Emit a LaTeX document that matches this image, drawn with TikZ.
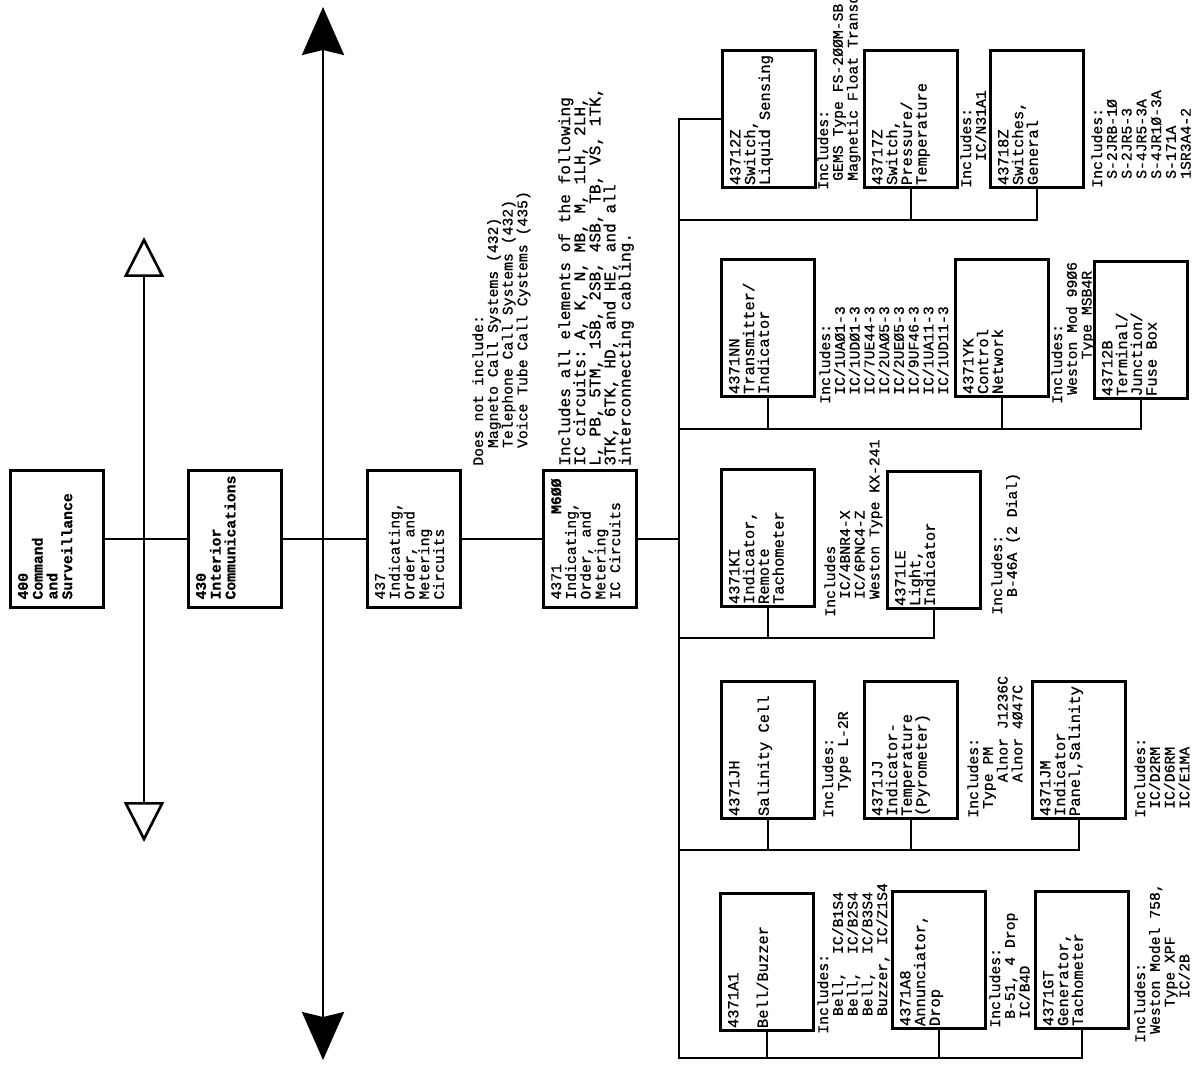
\documentclass[tikz,border=0pt]{standalone}
\usepackage{fontspec}
\setmonofont{Liberation Mono}[FakeBold=0.8]
\usetikzlibrary{arrows.meta}
\newcommand{\typefont}{\ttfamily\fontsize{8.4}{8.4}\selectfont}
\newcommand{\rtypefont}{\ttfamily\fontsize{8.8}{8.4}\selectfont}
\newcommand{\bigtypefont}{\ttfamily\fontsize{9.2}{8.6}\selectfont}
\newcommand{\bx}[1]{\parbox[t][1.56cm][t]{2.42cm}{\raggedright #1}}
\newcommand{\rbx}[1]{\parbox[t][1.56cm][t]{2.64cm}{\raggedright #1}}
\newcommand{\ind}[1]{\hspace*{#1\dimexpr0.6em\relax}}
\tikzset{
  blk/.style={draw, line width=1.5pt, rotate=90, inner xsep=0.16cm,
    inner ysep=0.15cm, font=\typefont},
  rblk/.style={blk, inner xsep=0.05cm, font=\rtypefont},
  bold/.style={font=\typefont\bfseries},
  note/.style={rotate=90, anchor=north west, inner sep=0pt, align=left,
    font=\typefont},
  wire/.style={line width=1.5pt},
  bigarrow/.style={line width=1.5pt,
    {Stealth[length=0.96cm,width=0.84cm,inset=0.1cm]}-{Stealth[length=0.96cm,width=0.84cm,inset=0.1cm]}},
  smallarrow/.style={line width=1.5pt,
    {Triangle[open,length=0.8cm,width=0.8cm]}-{Triangle[open,length=0.8cm,width=0.8cm]}}
}
\begin{document}
\begin{tikzpicture}[x=0.02cm, y=-0.02cm]
  \useasboundingbox (0,0) rectangle (1193,1065);

  % level arrows
  \coordinate (bigtop) at (323,7);
  \coordinate (bigbot) at (323,1060);
  \draw[bigarrow] (bigbot) -- (bigtop);
  \coordinate (smtop) at (144,237);
  \coordinate (smbot) at (144,842);
  \draw[smallarrow] (smbot) -- (smtop);

  % main chain
  \node[blk, bold] (n400) at (57,539) {\bx{400\\Command\\and\\Surveillance}};
  \node[blk, bold] (n430) at (235,539) {\bx{430\\Interior\\Communications}};
  \node[blk] (n437) at (414,539) {\bx{437\\Indicating,\\Order, and\\Metering\\Circuits}};
  \node[blk] (n4371) at (590,539) {\bx{4371\hfill\textbf{M6ØØ}\\Indicating,\\Order, and\\Metering\\IC Circuits}};
  \draw[wire] (n400.south) -- (n430.north);
  \draw[wire] (n430.south) -- (n437.north);
  \draw[wire] (n437.south) -- (n4371.north);

  \node[note] (dni) at (472,466) {Does not include:\\
    \ind{2}Magneto Call Systems (432)\\
    \ind{2}Telephone Call Systems (432)\\
    \ind{2}Voice Tube Call Cystems (435)};
  \node[note, font=\bigtypefont] (incl) at (558,466) {Includes all elements of the following\\
    IC circuits: A, K, N, MB, M, 1LH, 2LH,\\
    L, PB, 5TM, 1SB, 2SB, 4SB, TB, VS, 1TK,\\
    3TK, 6TK, HD, and HE, and all\\
    interconnecting cabling.};

  % bus
  \coordinate (bustop) at (679,120);
  \coordinate (busbot) at (679,1058);
  \coordinate (r1) at (679,220);
  \coordinate (r2) at (679,429);
  \coordinate (r3) at (679,638);
  \coordinate (r4) at (679,850);
  \draw[wire] (n4371.south) -- (n4371.south -| bustop);

  % row 1
  \node[rblk] (n43712Z) at (769,119) {\rbx{43712Z\\Switch,\\Liquid Sensing}};
  \node[rblk] (n43717Z) at (911,119) {\rbx{43717Z\\Switch,\\Pressure/\\Temperature}};
  \node[rblk] (n43718Z) at (1037,119) {\rbx{43718Z\\Switches,\\General}};
  \node[note] (z12note) at (817,190) {Includes:\\
    \ind{1}GEMS Type FS-2ØØM-SB\\
    \ind{1}Magnetic Float Transducer};
  \node[note] (z17note) at (960,188) {Includes:\\\ind{3}IC/N31A1};
  \node[note] (z18note) at (1091,188) {Includes:\\
    \ind{1}S-2JRB-1Ø\\\ind{1}S-2JR5-3\\\ind{1}S-4JR5-3A\\
    \ind{1}S-4JR1Ø-3A\\\ind{1}S-171A\\\ind{1}1SR3A4-2};

  % row 2
  \node[rblk] (n4371NN) at (768,328) {\rbx{4371NN\\Transmitter/\\Indicator}};
  \node[rblk] (n4371YK) at (1002,328) {\rbx{4371YK\\Control\\Network}};
  \node[rblk] (n43712B) at (1141,330) {\rbx{43712B\\Terminal/\\Junction/\\Fuse Box}};
  \node[note] (nnnote) at (819,404) {Includes:\\
    \ind{1}IC/1UAØ1-3\\\ind{1}IC/1UDØ1-3\\\ind{1}IC/7UE44-3\\
    \ind{1}IC/2UAØ5-3\\\ind{1}IC/2UEØ5-3\\\ind{1}IC/9UF46-3\\
    \ind{1}IC/1UA11-3\\\ind{1}IC/1UD11-3};
  \node[note] (yknote) at (1051,404) {Includes:\\
    \ind{1}Weston Mod 99Ø6\\\ind{5}Type MSB4R};

  % row 3
  \node[rblk] (n4371KI) at (768,538) {\rbx{4371KI\\Indicator,\\Remote\\Tachometer}};
  \node[rblk] (n4371LE) at (934,540) {\rbx{4371LE\\Light,\\Indicator}};
  \node[note] (kinote) at (824,617) {Includes\\
    \ind{2}IC/4BNR4-X\\\ind{2}IC/6PNC4-Z\\\ind{2}Weston Type KX-241};
  \node[note] (lenote) at (991,615) {Includes:\\\ind{2}B-46A (2 Dial)};

  % row 4
  \node[rblk] (n4371JH) at (768,750) {\rbx{4371JH\\\mbox{}\\Salinity Cell}};
  \node[rblk] (n4371JJ) at (911,750) {\rbx{4371JJ\\Indicator-\\Temperature\\(Pyrometer)}};
  \node[rblk] (n4371JM) at (1079,750) {\rbx{4371JM\\Indicator\\Panel,Salinity}};
  \node[note] (jhnote) at (822,818) {Includes:\\\ind{3}Type L-2R};
  \node[note] (jjnote) at (967,818) {Includes:\\
    \ind{1}Type PM\\\ind{4}Alnor J1236C\\\ind{4}Alnor 4Ø47C};
  \node[note] (jmnote) at (1134,818) {Includes:\\
    \ind{1}IC/D2RM\\\ind{1}IC/D6RM\\\ind{1}IC/E1MA};

  % row 5
  \node[rblk] (n4371A1) at (767,962) {\rbx{4371A1\\\mbox{}\\Bell/Buzzer}};
  \node[rblk] (n4371A8) at (939,960) {\rbx{4371A8\\Annunciator,\\Drop}};
  \node[rblk] (n4371GT) at (1082,960) {\rbx{4371GT\\Generator,\\Tachometer}};
  \node[note] (a1note) at (817,1034) {Includes:\\
    \ind{2}Bell,\ \ IC/B1S4\\\ind{2}Bell,\ \ IC/B2S4\\
    \ind{2}Bell,\ \ IC/B3S4\\\ind{2}Buzzer, IC/Z1S4};
  \node[note] (a8note) at (989,1028) {Includes:\\
    \ind{1}B-51, 4 Drop\\\ind{1}IC/B4D};
  \node[note] (gtnote) at (1134,1043) {Includes:\\
    \ind{1}Weston Model 758,\\\ind{4}Type XPF\\\ind{5}IC/2B};

  % connectors to the bus
  \draw[wire] (n43712Z.north) -- (n43712Z.north -| bustop) -- (busbot) -| (n4371GT.west);
  \draw[wire] (r1) -| (n43718Z.west);
  \draw[wire] (n43717Z.west) -- (n43717Z.west |- r1);
  \draw[wire] (r2) -| (n43712B.west);
  \draw[wire] (n4371NN.west) -- (n4371NN.west |- r2);
  \draw[wire] (n4371YK.west) -- (n4371YK.west |- r2);
  \draw[wire] (r3) -| (n4371LE.west);
  \draw[wire] (n4371KI.west) -- (n4371KI.west |- r3);
  \draw[wire] (r4) -| (n4371JM.west);
  \draw[wire] (n4371JH.west) -- (n4371JH.west |- r4);
  \draw[wire] (n4371JJ.west) -- (n4371JJ.west |- r4);
  \draw[wire] (n4371A1.west) -- (n4371A1.west |- busbot);
  \draw[wire] (n4371A8.west) -- (n4371A8.west |- busbot);
\end{tikzpicture}
\end{document}
